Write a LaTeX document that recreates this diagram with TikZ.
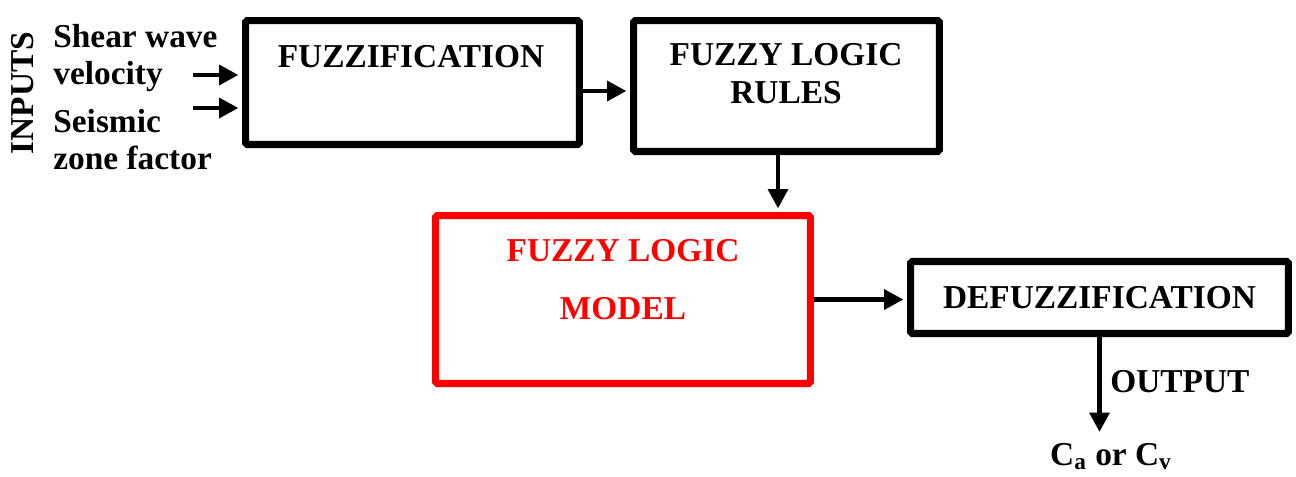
\documentclass[tikz,border=0pt]{standalone}
\usepackage{fontspec}
\setmainfont{Liberation Serif}
\usetikzlibrary{arrows.meta, positioning}

\tikzset{
  block/.style={draw, line width=4pt, rounded corners=1pt, inner sep=0pt},
  flow/.style={line width=2.8pt, -{Triangle[length=11pt,width=11pt]}, shorten >=2pt},
  lbl/.style={inner sep=0pt, align=center},
}

\begin{document}
\begin{tikzpicture}[x=0.02cm, y=-0.02cm, font=\fontsize{19}{21}\selectfont\bfseries]
  \useasboundingbox (0,0) rectangle (1296,477);

  % Blocks
  \node[block, minimum width=6.68cm, minimum height=2.48cm] (fuzz) at (412.5,82.5) {};
  \node[block, minimum width=6.12cm, minimum height=2.62cm] (rules) at (786.5,86) {};
  \node[block, draw=red, minimum width=7.5cm, minimum height=3.36cm] (model) at (623,299.5) {};
  \node[block, minimum width=7.56cm, minimum height=1.44cm] (defuzz) at (1099.5,297.5) {DEFUZZIFICATION};

  % Block titles
  \node[lbl, anchor=north] (fuzzt) at (411,45) {FUZZIFICATION};
  \node[lbl, anchor=north, font=\fontsize{19}{21.5}\selectfont\bfseries] (rulest) at (786,43) {FUZZY LOGIC\\RULES};
  \node[lbl, anchor=north, text=red, font=\fontsize{19}{33}\selectfont\bfseries] (modelt) at (623,239) {FUZZY LOGIC\\MODEL};

  % Inputs
  \node[lbl, rotate=90, anchor=base] (inputs) at (33,93) {INPUTS};
  \node[lbl, align=left, anchor=north west] (vs) at (53,24) {Shear wave\\velocity};
  \node[lbl, align=left, anchor=north west] (zf) at (53,109) {Seismic\\zone factor};
  \coordinate (in1) at (193,75);
  \coordinate (in2) at (193,108);
  \draw[flow] (in1) -- (in1 -| fuzz.west);
  \draw[flow] (in2) -- (in2 -| fuzz.west);

  % Connections
  \coordinate (f2r) at (583,91);
  \draw[flow] (f2r) -- (f2r -| rules.west);
  \coordinate (r2m) at ([xshift=-0.17cm]rules.south);
  \draw[flow] (r2m) -- (r2m |- model.north);
  \draw[flow] (model.east) -- (model.east -| defuzz.west);

  % Output
  \coordinate (out) at (1101,432);
  \draw[flow, shorten >=0pt] (defuzz.south) -- (defuzz.south |- out);
  \node[lbl, anchor=base west] (outt) at (1110,392) {OUTPUT};
  \node[lbl, anchor=base] (coef) at (1111,465) {C\textsubscript{a} or C\textsubscript{v}};
\end{tikzpicture}
\end{document}
